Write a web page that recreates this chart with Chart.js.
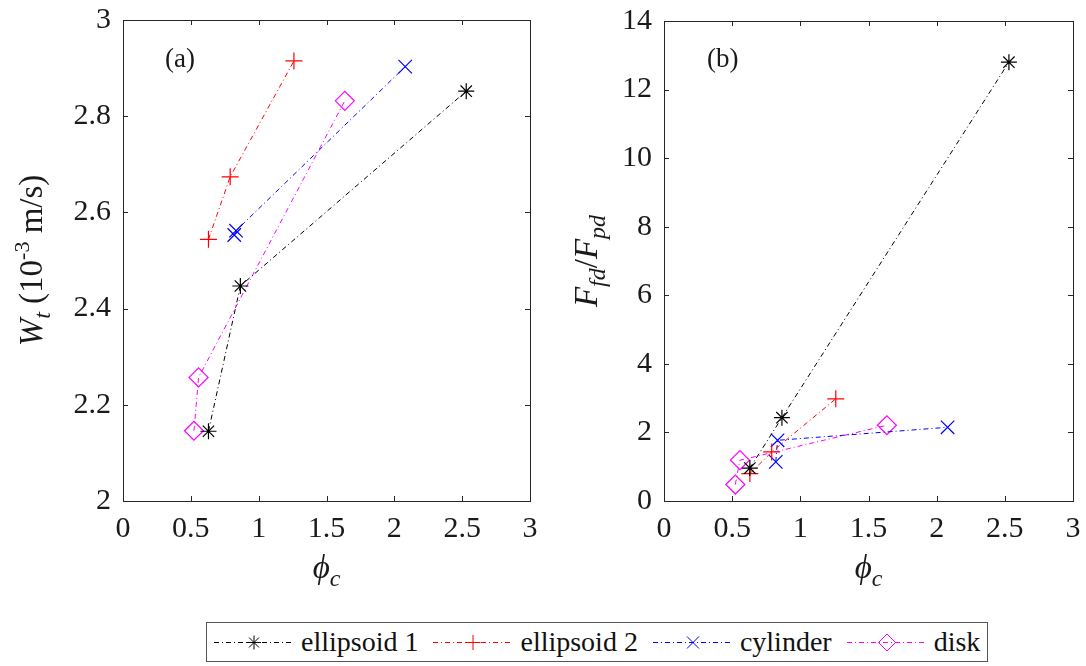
<!DOCTYPE html>
<html>
<head>
<meta charset="utf-8">
<script src="https://cdn.jsdelivr.net/npm/chart.js@4.4.0/dist/chart.umd.min.js"></script>
<style>
html, body { margin: 0; padding: 0; background: #fff; }
#wrap { position: relative; width: 1086px; height: 666px; overflow: hidden; }
#panelA { position: absolute; left: 0; top: 0; }
#panelB { position: absolute; left: 545px; top: 0; }
#legend { position: absolute; left: 206px; top: 622px; width: 782px; height: 40px; box-sizing: border-box;
  border: 1px solid #555; display: flex; align-items: center; padding-left: 7px; white-space: nowrap;
  font-family: 'Liberation Serif', 'Times New Roman', serif; font-size: 28px; color: #111; }
#legend .item { display: flex; align-items: center; margin-right: 15px; flex: none; }
#legend canvas { margin-right: 7px; display: block; }
</style>
</head>
<body>
<div id="wrap">
  <canvas id="panelA" width="545" height="610"></canvas>
  <canvas id="panelB" width="541" height="610"></canvas>
  <div id="legend"></div>
</div>
<script>
// series names
var seriesNames = ['ellipsoid 1', 'ellipsoid 2', 'cylinder', 'disk'];

// phi_c for each shape
var phiE1 = [0.63, 0.865, 2.53];
var phiE2 = [0.63, 0.79, 1.26];
var phiCyl = [0.82, 0.833, 2.08];
var phiDisk = [0.523, 0.557, 1.635];

// (a) W_t (10^-3 m/s)
var wtE1 = [2.145, 2.447, 2.852];
var wtE2 = [2.544, 2.674, 2.915];
var wtCyl = [2.553, 2.562, 2.903];
var wtDisk = [2.146, 2.257, 2.832];

// (b) F_fd / F_pd
var frE1 = [0.96, 2.43, 12.8];
var frE2 = [0.8, 1.43, 2.98];
var frCyl = [1.14, 1.77, 2.15];
var frDisk = [0.48, 1.19, 2.21];

// tick labels
var xTicks = [0, 0.5, 1, 1.5, 2, 2.5, 3];
var wtTicks = [2, 2.2, 2.4, 2.6, 2.8, 3];
var frTicks = [0, 2, 4, 6, 8, 10, 12, 14];

// look of each series
var lineColors = ['#000000', '#ff0000', '#0000ff', '#ff00ff'];
var markerStyles = ['star', 'cross', 'crossRot', 'rectRot'];
var markerSizes = [8, 8.5, 9.5, 9.5];
var dashDot = [5, 3, 1, 3];

var serif = 'Liberation Serif';
var textColor = '#1a1a1a';
Chart.defaults.font.family = serif;

function toPoints(xs, ys) {
    var pts = [];
    for (var i = 0; i < xs.length; i++) pts.push({x: xs[i], y: ys[i]});
    return pts;
}

function makeDatasets(ySeries) {
    var xSeries = [phiE1, phiE2, phiCyl, phiDisk];
    return ySeries.map(function (ys, i) {
        return {
            label: seriesNames[i],
            data: toPoints(xSeries[i], ys),
            showLine: true,
            borderColor: lineColors[i],
            borderWidth: 1,
            borderDash: dashDot,
            pointStyle: markerStyles[i],
            pointRadius: markerSizes[i],
            pointBorderWidth: 1.2,
            pointBorderColor: lineColors[i],
            pointBackgroundColor: 'rgba(0,0,0,0)',
            fill: false
        };
    });
}

// draws a run of text pieces (italic / sub / sup) centred on (0,0) baseline
function drawRuns(ctx, runs) {
    var total = 0;
    runs.forEach(function (r) {
        ctx.font = (r.i ? 'italic ' : '') + r.s + 'px "' + serif + '"';
        r.w = ctx.measureText(r.t).width;
        total += r.w;
    });
    var x = -total / 2;
    ctx.textAlign = 'left';
    ctx.textBaseline = 'alphabetic';
    runs.forEach(function (r) {
        ctx.font = (r.i ? 'italic ' : '') + r.s + 'px "' + serif + '"';
        ctx.fillText(r.t, x, r.dy || 0);
        x += r.w;
    });
}

var framePlugin = {
    id: 'frame',
    afterDraw: function (chart, args, opts) {
        var ctx = chart.ctx, a = chart.chartArea;
        var xs = chart.scales.x, ys = chart.scales.y;
        ctx.save();
        ctx.strokeStyle = '#262626';
        ctx.lineWidth = 1;
        ctx.strokeRect(Math.round(a.left) + 0.5, Math.round(a.top) + 0.5,
            Math.round(a.right - a.left), Math.round(a.bottom - a.top));
        ctx.beginPath();
        xs.ticks.forEach(function (t) {
            var px = Math.round(xs.getPixelForValue(t.value)) + 0.5;
            ctx.moveTo(px, a.bottom); ctx.lineTo(px, a.bottom - 5);
            ctx.moveTo(px, a.top); ctx.lineTo(px, a.top + 5);
        });
        ys.ticks.forEach(function (t) {
            var py = Math.round(ys.getPixelForValue(t.value)) + 0.5;
            ctx.moveTo(a.left, py); ctx.lineTo(a.left + 5, py);
            ctx.moveTo(a.right, py); ctx.lineTo(a.right - 5, py);
        });
        ctx.stroke();

        ctx.fillStyle = textColor;
        // panel tag
        ctx.font = '27px "' + serif + '"';
        ctx.textAlign = 'left';
        ctx.textBaseline = 'alphabetic';
        ctx.fillText(opts.tag, a.left + opts.tagDx, 67);

        // x title
        ctx.save();
        ctx.translate((a.left + a.right) / 2, 578);
        drawRuns(ctx, opts.xTitle);
        ctx.restore();

        // y title
        ctx.save();
        ctx.translate(opts.yTitleX, (a.top + a.bottom) / 2);
        ctx.rotate(-Math.PI / 2);
        drawRuns(ctx, opts.yTitle);
        ctx.restore();
        ctx.restore();
    }
};

function noPad(s) {
    s.paddingTop = 0; s.paddingBottom = 0; s.paddingLeft = 0; s.paddingRight = 0;
}

function makeChart(id, ySeries, yMin, yMax, yTicks, yWidth, padRight, padTop, frameOpts) {
    var tickFont = {family: serif, size: 30};
    var fmt = function (v) { return String(v); };
    return new Chart(document.getElementById(id).getContext('2d'), {
        type: 'scatter',
        data: {datasets: makeDatasets(ySeries)},
        options: {
            responsive: false,
            animation: false,
            layout: {padding: {top: padTop, right: padRight, left: 0, bottom: 0}},
            plugins: {
                legend: {display: false},
                tooltip: {enabled: false},
                frame: frameOpts
            },
            scales: {
                x: {
                    type: 'linear', min: 0, max: 3,
                    afterBuildTicks: function (s) { s.ticks = xTicks.map(function (v) { return {value: v}; }); },
                    afterFit: function (s) { s.height = 610 - 501; noPad(s); },
                    grid: {display: false, drawTicks: false},
                    border: {display: false},
                    ticks: {font: tickFont, color: textColor, padding: 10, maxRotation: 0, autoSkip: false, callback: fmt}
                },
                y: {
                    type: 'linear', min: yMin, max: yMax,
                    afterBuildTicks: function (s) { s.ticks = yTicks.map(function (v) { return {value: v}; }); },
                    afterFit: function (s) { s.width = yWidth; noPad(s); },
                    grid: {display: false, drawTicks: false},
                    border: {display: false},
                    ticks: {font: tickFont, color: textColor, padding: 12, autoSkip: false, callback: fmt}
                }
            }
        },
        plugins: [framePlugin]
    });
}

var phiTitle = [{t: '\u03d5', i: true, s: 33}, {t: 'c', i: true, s: 24, dy: 8}];

makeChart('panelA', [wtE1, wtE2, wtCyl, wtDisk], 2, 3, wtTicks, 123, 15, 20, {
    tag: '(a)', tagDx: 42, yTitleX: 42, xTitle: phiTitle,
    yTitle: [{t: 'W', i: true, s: 33}, {t: 't', i: true, s: 24, dy: 8},
        {t: ' (10', s: 33}, {t: '-3', s: 22, dy: -13}, {t: ' m/s)', s: 33}]
});

makeChart('panelB', [frE1, frE2, frCyl, frDisk], 0, 14, frTicks, 119, 13, 21, {
    tag: '(b)', tagDx: 43, yTitleX: 597 - 545, xTitle: phiTitle,
    yTitle: [{t: 'F', i: true, s: 33}, {t: 'fd', i: true, s: 24, dy: 8},
        {t: '/', s: 33}, {t: 'F', i: true, s: 33}, {t: 'pd', i: true, s: 24, dy: 8}]
});

// legend
var legend = document.getElementById('legend');
seriesNames.forEach(function (name, i) {
    var item = document.createElement('div');
    item.className = 'item';
    var c = document.createElement('canvas');
    c.width = 80; c.height = 30;
    var ctx = c.getContext('2d');
    ctx.strokeStyle = lineColors[i];
    ctx.lineWidth = 1;
    ctx.setLineDash(dashDot);
    ctx.beginPath();
    ctx.moveTo(0, 15.5); ctx.lineTo(80, 15.5);
    ctx.stroke();
    ctx.setLineDash([]);
    ctx.fillStyle = 'rgba(0,0,0,0)';
    Chart.helpers.drawPoint(ctx, {pointStyle: markerStyles[i], radius: markerSizes[i] - 1, borderWidth: 1.2, rotation: 0}, 40, 15.5);
    var span = document.createElement('span');
    span.textContent = name;
    item.appendChild(c);
    item.appendChild(span);
    legend.appendChild(item);
});
</script>
</body>
</html>
